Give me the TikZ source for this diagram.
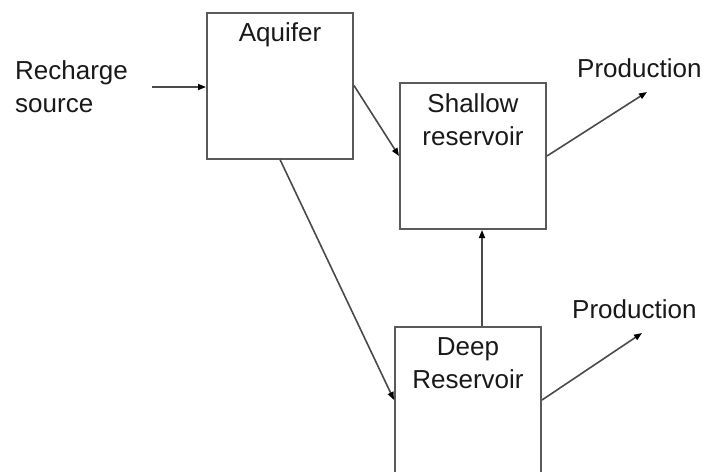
\documentclass[tikz,border=0pt]{standalone}
\usepackage{fontspec}
\setmainfont{Liberation Sans}
\usepackage{tikz}
\usetikzlibrary{arrows.meta, calc}
\definecolor{boxLine}{HTML}{5A5A5A}
\definecolor{flowLine}{HTML}{4A4A4A}

\begin{document}
\begin{tikzpicture}[
    x=1pt, y=-1pt,
    txt/.style={font=\fontsize{26}{33}\selectfont, text=black!90, inner sep=0pt},
    box/.style={draw=boxLine, line width=2pt, minimum width=146pt,
                minimum height=146pt, inner sep=0pt},
    boxlabel/.style={txt, anchor=north, align=center, yshift=-11pt},
    arrow/.style={-{Triangle[length=8pt, width=6pt, black]}, draw=flowLine,
                  line width=1.6pt},
]
\useasboundingbox (0,0) rectangle (709,471);

% Boxes
\node[box, label={[boxlabel]north:Aquifer}] (aquifer) at (280,85.5) {};
\node[box, label={[boxlabel]north:{Shallow\\reservoir}}] (shallow) at (473,156) {};
\node[box, label={[boxlabel]north:{Deep\\Reservoir}}] (deep) at (468,400) {};

% Source and outputs
\node[txt, anchor=west, align=left] (recharge) at (15,87) {Recharge\\source};
\node[txt, anchor=base west] (prodshallow) at (577,77) {Production};
\node[txt, anchor=base west] (proddeep) at (572,318) {Production};
\coordinate (rsrc) at (152,87);
\coordinate (outshallow) at (647,92);
\coordinate (outdeep) at (642,333);

\draw[arrow] (rsrc) -- (rsrc -| aquifer.west);
\draw[arrow] (aquifer.east) -- (shallow.west);
\draw[arrow] (aquifer.south) -- (deep.west);
\draw[arrow] ([xshift=14pt]deep.north) -- ([xshift=14pt]deep.north |- shallow.south);
\draw[arrow] (shallow.east) -- (outshallow);
\draw[arrow] (deep.east) -- (outdeep);
\end{tikzpicture}
\end{document}
